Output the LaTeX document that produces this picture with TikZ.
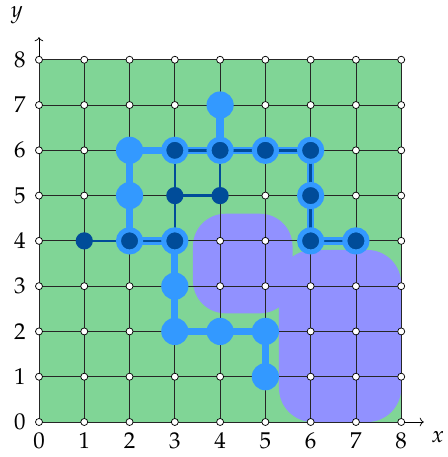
\documentclass[tikz,border=0pt]{standalone}
\usepackage{mathpazo}
\usetikzlibrary{arrows.meta}
\definecolor{fieldgreen}{HTML}{80D596}
\definecolor{regionviolet}{HTML}{9191FF}
\definecolor{treelight}{HTML}{3399FF}
\definecolor{treedark}{HTML}{004C99}

\begin{document}
\begin{tikzpicture}[every node/.style={font=\Large},
  gridpt/.style={circle,draw=black,fill=white,line width=0.45pt,inner sep=0pt,minimum size=0.155cm},
  bigpt/.style={circle,fill=treelight,inner sep=0pt,minimum size=0.6cm},
  ringpt/.style={circle,fill=treedark,draw=treelight,line width=0.11cm,inner sep=0pt,minimum size=0.49cm},
  dotpt/.style={circle,fill=treedark,inner sep=0pt,minimum size=0.38cm},
  lightedge/.style={treelight,line width=0.16cm},
  darkedge/.style={treedark,line width=0.055cm}]
\useasboundingbox (-0.861,-0.773) rectangle (9.03,9.32);
% field and regions
\fill[fieldgreen] (0,0) rectangle (8,8);
\fill[regionviolet,rounded corners=0.72cm] (3.4,2.4) rectangle (5.6,4.6);
\fill[regionviolet,rounded corners=0.75cm] (5.3,0) rectangle (8,3.8);
\draw[black!85,line width=0.5pt] (0,0) grid (8,8);
% axes
\coordinate (xend) at (8.5,0);
\coordinate (yend) at (0,8.5);
\draw[->,line width=0.45pt] (8,0)--(xend);
\draw[->,line width=0.45pt] (0,8)--(yend);
\node at (8.81,-0.33) {$x$};
\node at (-0.49,8.98) {$y$};
\foreach \i in {0,...,8} {
  \node at (\i,-0.42) {$\i$};
  \node at (-0.42,\i) {$\i$};
}
% lattice points
\foreach \i in {0,...,8}
  \foreach \j in {0,...,8}
    \node[gridpt] (p\i\j) at (\i,\j) {};
% tree edges
\foreach \a/\b in {47/46,26/36,26/25,25/24,24/34,34/33,33/32,32/42,42/52,52/51,36/46,46/56,56/66,66/65,65/64,64/74}
  \draw[lightedge] (p\a)--(p\b);
\foreach \a/\b in {14/24,24/34,34/35,35/36,35/45,45/46,36/46,46/56,56/66,66/65,65/64,64/74}
  \draw[darkedge] (p\a)--(p\b);
% tree nodes
\foreach \i/\j in {4/7,2/6,2/5,3/3,3/2,4/2,5/2,5/1}
  \node[bigpt] (v\i\j) at (p\i\j) {};
\foreach \i/\j in {3/6,4/6,5/6,6/6,6/5,6/4,7/4,2/4,3/4}
  \node[ringpt] (v\i\j) at (p\i\j) {};
\foreach \i/\j in {1/4,3/5,4/5}
  \node[dotpt] (v\i\j) at (p\i\j) {};
\end{tikzpicture}
\end{document}
